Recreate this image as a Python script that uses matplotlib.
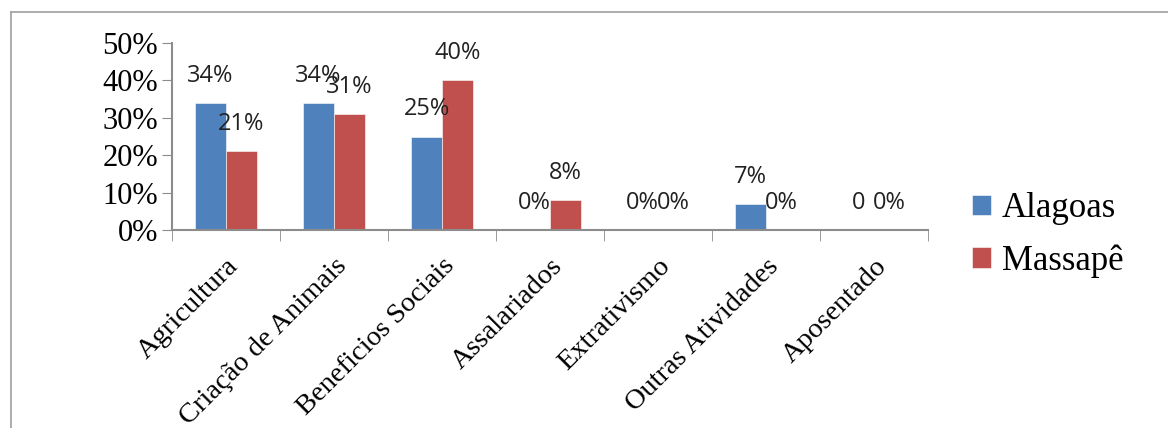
import matplotlib.pyplot as plt
import numpy as np
from matplotlib.lines import Line2D

categories = ["Agricultura", "Criação de Animais", "Beneficios Sociais", "Assalariados",
              "Extrativismo", "Outras Atividades", "Aposentado"]
alagoas = [34, 34, 25, 0, 0, 7, 0]
massape = [21, 31, 40, 8, 0, 0, 0]
alagoas_labels = ["34%", "34%", "25%", "0%", "0%", "7%", "0"]
massape_labels = ["21%", "31%", "40%", "8%", "0%", "0%", "0%"]

blue = "#4F81BD"
red = "#C0504D"
axis_gray = "#8C8C8C"

fig = plt.figure(figsize=(11.68, 4.28), dpi=100)
ax = fig.add_axes([172 / 1168, 1 - 230 / 428, (928 - 172) / 1168, (230 - 43) / 428])

x = np.arange(len(categories))
w = 0.287
b1 = ax.bar(x - w / 2, alagoas, w, color=blue, edgecolor="white", linewidth=0.4, label="Alagoas")
b2 = ax.bar(x + w / 2, massape, w, color=red, edgecolor="white", linewidth=0.4, label="Massapê")

for bars, labs in ((b1, alagoas_labels), (b2, massape_labels)):
    for rect, lab in zip(bars, labs):
        ax.annotate(lab, (rect.get_x() + rect.get_width() / 2, rect.get_height()),
                    xytext=(0, 11), textcoords="offset points", ha="center", va="bottom",
                    fontsize=17, family="Open Sans", color="#222222")

ax.set_xlim(-0.5, len(categories) - 0.5)
ax.set_ylim(0, 50)
ax.set_yticks(range(0, 51, 10))
ax.set_yticklabels([f"{v}%" for v in range(0, 51, 10)], family="Liberation Serif", fontsize=22)
ax.tick_params(axis="y", direction="out", length=7, color=axis_gray, pad=3)

ax.set_xticks(x)
ax.set_xticklabels(categories, rotation=45, ha="right", rotation_mode="anchor",
                   family="Liberation Serif", fontsize=20.5)
ax.tick_params(axis="x", which="major", length=0, pad=17)
ax.set_xticks(np.arange(-0.5, len(categories)), minor=True)
ax.tick_params(axis="x", which="minor", direction="out", length=8, color=axis_gray)

for s in ("top", "right"):
    ax.spines[s].set_visible(False)
for s in ("left", "bottom"):
    ax.spines[s].set_color(axis_gray)
    ax.spines[s].set_linewidth(1.5)

ax.legend(loc="upper left", bbox_to_anchor=(941 / 1168, 1 - 161 / 428),
          bbox_transform=fig.transFigure, frameon=False,
          prop={"family": "Liberation Serif", "size": 25},
          handlelength=0.55, handleheight=0.55, handletextpad=0.3, labelspacing=0.55)

# outer frame (only top and left edges visible)
fig.add_artist(Line2D([11 / 1168, 1.0], [1 - 12 / 428] * 2, transform=fig.transFigure,
                      color="#A6A6A6", linewidth=1.3))
fig.add_artist(Line2D([11 / 1168] * 2, [0, 1 - 12 / 428], transform=fig.transFigure,
                      color="#A6A6A6", linewidth=1.3))

fig.savefig("out.png", dpi=100)
